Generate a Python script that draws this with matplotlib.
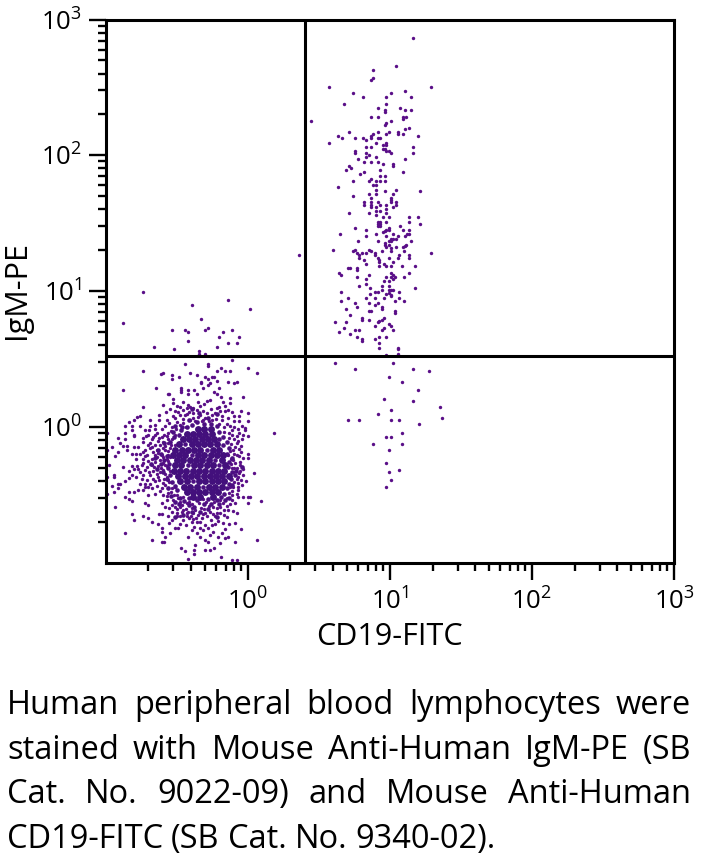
import numpy as np
import matplotlib
matplotlib.use("Agg")
import matplotlib.pyplot as plt
from matplotlib.ticker import NullFormatter, FixedLocator

plt.rcParams['font.family'] = ['Open Sans', 'DejaVu Sans']
plt.rcParams['mathtext.fontset'] = 'custom'
plt.rcParams['mathtext.rm'] = 'Open Sans'
plt.rcParams['mathtext.default'] = 'rm'

# events as (FITC channel, PE channel), 1024 channels over 4 log decades
upper_right = [
    (554,990),(523,937),(482,929),(482,913),(478,909),(402,897),(587,897),(446,885),(515,885),(539,889),
    (463,877),(506,877),(551,877),(430,864),(506,864),(491,857),(503,853),(503,849),(530,857),(539,853),
    (551,853),(479,841),(491,841),(535,841),(535,837),(542,841),(515,833),(506,829),(503,825),
    (547,820),(539,817),(438,812),(491,812),(511,812),(527,812),(527,809),(535,809),(506,809),(482,809),
    (479,804),(479,800),(418,804),(563,804),(426,800),(450,800),(463,800),(470,797),(491,800),(494,800),
    (402,792),(487,792),(506,792),(506,788),(499,788),(470,784),(479,784),(554,784),(499,780),(503,780),
    (506,776),(511,776),(450,776),(450,772),(515,772),(554,772),(470,772),(475,768),(470,764),(487,764),
    (454,760),(539,760),(466,756),(479,756),(491,756),(499,752),(518,752),(518,748),(438,748),(442,744),
    (434,740),(494,740),(466,736),(458,732),(535,736),(494,728),(503,728),(479,724),(475,720),(446,720),
    (487,720),(494,720),(503,720),(482,712),(487,712),(418,708),(487,703),(523,703),(503,700),(566,700),
    (475,695),(487,695),(518,695),(446,692),(479,687),(515,687),(515,683),(515,679),(466,679),(466,675),
    (479,679),(479,675),(479,671),(491,679),(494,675),(487,671),(506,675),(523,679),(523,675),(518,671),
    (487,663),(494,663),(506,667),(506,659),(438,659),(475,659),(487,655),(499,651),(511,651),(547,651),
    (563,651),(547,643),(491,643),(494,643),(506,643),(491,639),(494,639),(491,635),(494,635),(566,639),
    (530,635),(450,631),(511,631),(470,627),(506,627),(503,625),(511,627),(535,627),(547,627),(499,623),
    (422,619),(487,619),(518,619),(543,619),(547,619),(506,615),(470,615),(527,615),(539,615),(518,611),
    (523,611),(515,611),(511,607),(515,607),(454,607),(491,607),(551,607),(503,603),(503,598),(511,598),
    (542,598),(539,596),(535,595),(506,595),(523,595),(515,593),(410,590),(450,590),(475,590),
    (586,583),(445,587),(453,583),(457,579),(457,575),(462,583),(469,583),(478,587),(486,583),(486,579),
    (498,587),(514,587),(538,587),(546,579),(546,575),(510,575),(529,579),(526,575),(465,571),(490,575),
    (493,571),(493,567),(517,567),(469,563),(502,563),(505,559),(514,559),(493,559),(534,559),(558,559),
    (437,555),(441,555),(453,555),(453,551),(546,546),(421,546),(425,543),(474,543),(514,546),(517,543),
    (453,538),(505,538),(514,538),(522,538),(517,534),(469,534),(538,538),(510,530),(502,530),(469,526),
    (498,522),(457,522),(510,522),(558,518),(477,518),(498,514),(517,514),(514,514),(510,514),(510,509),
    (514,505),(486,510),(490,510),(477,507),(529,510),(425,510),(505,506),(437,498),(469,498),(486,498),
    (502,498),(514,503),(529,498),(522,494),(538,494),(425,494),(449,490),(474,490),(490,490),(486,486),
    (453,482),(498,482),(498,478),(433,478),(474,474),(478,474),(522,474),(522,470),(441,466),(462,462),
    (462,458),(474,458),(502,462),(498,458),(493,455),(490,454),(413,454),(433,454),(510,450),(514,446),
    (486,446),(429,442),(502,442),(498,438),(449,438),(457,438),(517,438),(421,434),(441,430),(453,426),
    (462,422),(462,418),(493,426),(505,426),(486,422),(493,414),(493,405),(526,405),(526,402),(526,393),
    (505,391),(370,833),
]
lower_right = [
    (413,377),(517,377),(449,365),(553,365),(582,361),(510,349),(534,341),(562,325),(502,309),(553,305),
    (602,293),(514,288),(490,280),(606,272),(437,268),(457,268),(514,268),(529,268),(565,261),(534,244),
    (505,236),(514,236),(481,224),(534,224),(510,212),(505,188),(510,171),(529,175),(514,156),(505,143),
]
upper_left = [
    (67,511),(220,495),(156,486),(260,478),(31,451),(172,459),(184,442),(180,439),(120,439),(144,439),
    (148,434),(228,439),(212,434),(204,426),(240,426),(148,418),(220,414),(236,414),(87,406),(123,402),
    (200,406),(168,398),(168,394),(180,394),(348,579),
]
lower_left = [
    (228,382),(144,374),(184,374),(184,370),(67,362),(104,358),(100,355),(120,354),(152,358),(164,354),
    (208,366),(200,362),(216,362),(224,362),(256,366),(272,358),(120,346),(132,350),(180,350),(184,346),
    (192,350),(196,350),(200,342),(172,341),(172,338),(220,341),(236,341),(232,338),(188,338),(184,334),
    (176,329),(204,329),(91,330),(31,326),(136,329),(136,326),(136,321),(148,326),(160,326),(112,317),
    (115,317),(148,317),(164,317),(196,321),(200,317),(208,313),(248,313),(224,310),(224,300),(188,307),
    (182,304),(167,302),(121,308),(121,300),(104,297),(68,294),(152,294),(158,291),(149,297),(134,294),
    (205,294),(221,288),(125,285),(140,287),(164,288),(200,291),(206,285),(215,285),(244,285),(256,281),
    (232,277),(240,277),(63,277),(52,268),(43,265),(56,274),(97,269),(110,269),(125,272),(134,278),
    (147,280),(170,278),(191,278),(197,282),(191,269),(221,272),(232,266),(240,266),(256,266),(209,269),
    (152,269),(161,266),(176,269),(35,258),(47,258),(63,258),(80,258),(89,260),(107,258),(119,256),
    (134,260),(232,255),(252,253),(252,249),(227,249),(240,245),(304,245),(3,245),(35,245),(47,249),
    (52,241),(71,249),(79,249),(92,245),(113,245),(125,241),(77,241),(89,241),(106,241),(248,241),
    (256,238),(52,238),(68,234),(23,234),(35,233),(83,233),(97,234),(113,233),(227,241),(236,238),
    (27,225),(31,220),(39,220),(52,217),(59,217),(67,228),(80,225),(89,222),(104,228),(113,225),
    (125,222),(11,217),(3,212),(39,212),(23,209),(68,209),(80,216),(92,212),(107,212),(116,216),
    (236,225),(244,220),(244,209),(230,212),(256,205),(55,205),(63,205),(47,205),(17,200),(71,201),
    (89,203),(101,203),(113,203),(221,203),(236,203),(55,195),(67,195),(83,195),(98,194),(110,195),
    (256,197),(230,194),(242,190),(7,184),(31,181),(47,182),(56,182),(68,187),(83,184),(95,182),
    (110,182),(242,184),(248,176),(51,176),(59,176),(43,172),(71,175),(86,173),(104,175),(116,172),
    (242,172),(227,178),(236,178),(3,161),(15,165),(15,161),(47,165),(35,153),(43,159),(55,162),
    (67,165),(80,165),(95,162),(110,161),(268,168),(248,165),(239,162),(11,144),(23,148),(27,148),
    (63,148),(71,148),(80,148),(89,153),(104,150),(113,156),(239,150),(230,143),(253,153),(23,140),
    (59,137),(67,137),(77,143),(101,140),(113,140),(125,143),(239,137),(3,129),(15,133),(35,124),
    (43,133),(51,133),(43,120),(47,116),(77,128),(104,128),(113,131),(123,128),(239,124),(248,124),
    (256,124),(260,124),(228,128),(280,116),(18,104),(71,112),(76,109),(101,112),(110,117),(122,118),
    (134,115),(146,112),(161,121),(176,119),(191,121),(206,118),(218,121),(227,118),(256,112),(233,112),
    (47,92),(51,80),(67,88),(76,84),(83,77),(97,92),(101,92),(112,88),(125,105),(134,105),
    (119,96),(140,99),(149,96),(158,93),(167,90),(179,93),(188,96),(200,102),(221,99),(230,98),
    (128,87),(134,87),(146,87),(155,77),(164,77),(173,84),(182,87),(197,87),(206,93),(236,93),
    (233,75),(95,72),(125,66),(131,66),(101,66),(179,71),(191,71),(244,63),(35,56),(101,58),
    (116,56),(155,61),(164,56),(176,61),(185,65),(194,58),(215,63),(209,55),(188,52),(221,48),
    (233,39),(272,43),(83,43),(101,39),(105,39),(107,48),(148,48),(170,49),(179,43),(206,36),
    (161,33),(185,39),(136,27),(144,22),(160,24),(160,16),(148,7),(180,24),(188,24),(196,27),
    (208,11),(228,5),(236,5),(215,46),(203,49),
]
# the busy ring just outside the saturated middle
cloud_ring = [
    (73,238),(86,236),(95,229),(101,236),(110,238),(119,232),(76,222),(84,218),(98,221),(108,219),
    (118,222),(72,213),(86,208),(95,206),(104,216),(112,210),(121,206),(75,203),(93,199),(103,199),
    (117,199),(77,192),(90,190),(104,188),(113,191),(65,184),(74,181),(88,180),(100,178),(108,184),
    (62,170),(78,170),(92,167),(99,170),(108,167),(66,158),(74,156),(85,158),(97,155),(105,157),
    (115,151),(72,142),(84,140),(93,145),(108,146),(119,141),(90,130),(98,134),(110,126),(118,133),
    (128,128),(118,248),(127,252),(139,263),(145,256),(158,272),(166,275),(173,266),(180,273),(186,266),
    (199,271),(205,262),(213,256),(218,262),(224,258),(213,247),(222,244),(128,265),(140,271),(115,264),
    (122,277),(131,283),(143,279),(150,284),(158,281),(176,286),(183,281),(190,289),(210,276),(216,295),
    (228,283),(128,295),(140,302),(146,291),(170,295),(178,299),(212,303),(238,251),(245,258),(109,284),
    (116,290),(96,279),(101,252),(90,252),(80,268),(222,235),(231,232),(238,230),(246,232),(226,224),
    (233,218),(240,214),(224,210),(232,204),(240,200),(248,197),(226,196),(234,188),(226,186),(232,178),
    (240,168),(230,171),(236,158),(244,156),(232,152),(238,143),(246,146),(224,142),(228,134),(236,129),
    (222,131),(130,122),(140,124),(150,115),(156,110),(168,113),(181,114),(186,107),(196,114),(212,112),
    (218,107),(225,110),(138,108),(128,100),(145,100),(155,103),(162,99),(172,103),(178,100),(193,104),
    (207,104),(213,99),(120,109),(115,103),(108,104),(128,93),(137,96),(146,94),(154,88),(163,84),
    (176,92),(193,92),(200,93),(213,90),(219,85),(140,80),(150,83),(158,82),(190,80),(203,79),
    (170,76),(120,80),(115,75),(135,72),(145,70),(160,67),(170,66),(198,72),(212,75),(222,73),
]
# overlapping events between the ring and the middle
cloud_shoulder = [
    (100,205),(110,200),(105,193),(115,186),(112,178),(100,186),(92,176),(104,170),(116,165),(110,158),
    (120,152),(125,145),(112,140),(128,136),(118,125),(135,122),(90,197),(82,186),(94,212),(106,225),
    (116,228),(124,236),(132,240),(122,246),(136,250),(146,255),(155,260),(165,265),(178,262),(190,262),
    (200,258),(205,246),(212,236),(205,232),(218,228),(212,222),(222,216),(218,205),(228,198),(150,268),
    (138,255),(125,258),(200,280),(185,272),(168,282),(155,290),(222,190),(220,180),(228,170),(226,158),
    (234,165),(222,148),(218,140),(228,146),(214,130),(208,124),(222,122),(235,172),(245,180),(200,118),
    (185,120),(178,110),(165,118),(150,122),(142,116),(132,110),(126,114),(160,105),(190,110),(205,110),
    (150,108),(170,95),(185,100),(140,90),(155,95),(125,85),(200,85),(215,118),
    (143,223),(183,213),(156,203),(197,193),(148,183),(204,183),(158,153),(175,143),
]
# the saturated middle of the lymphocyte cloud
core = [
    (166,252),(178,252),(190,252),
    (146,243),(157,243),(169,243),(180,243),(192,243),
    (139,233),(151,233),(162,233),(173,233),(185,233),(196,233),
    (132,223),(155,223),(166,223),(177,223),(189,223),(200,223),
    (126,213),(137,213),(148,213),(160,213),(171,213),(194,213),(205,213),
    (122,203),(133,203),(144,203),(167,203),(178,203),(190,203),(201,203),(212,203),
    (129,193),(140,193),(152,193),(163,193),(174,193),(186,193),(209,193),
    (125,183),(136,183),(159,183),(170,183),(182,183),(193,183),(215,183),
    (123,173),(134,173),(145,173),(157,173),(168,173),(179,173),(191,173),(202,173),(213,173),
    (131,163),(143,163),(154,163),(165,163),(177,163),(188,163),(199,163),(210,163),(222,163),
    (135,153),(146,153),(169,153),(180,153),(192,153),(203,153),(214,153),
    (141,143),(152,143),(164,143),(186,143),(198,143),(209,143),
    (146,133),(157,133),(168,133),(180,133),(191,133),(202,133),
    (158,124),(170,124),(193,124),
]
gate_x_channel = 359.6
gate_y_channel = 388.9

decade_labels = ['$10^{0}$', '$10^{1}$', '$10^{2}$', '$10^{3}$']
decade_values = [1, 10, 100, 1000]
caption_lines = [
    "Human peripheral blood lymphocytes were",
    "stained with Mouse Anti-Human IgM-PE (SB",
    "Cat. No. 9022-09) and Mouse Anti-Human",
    "CD19-FITC (SB Cat. No. 9340-02).",
]


def to_linear(channel):
    return 10.0 ** (np.asarray(channel, dtype=float) / 256 - 1)


fig = plt.figure(figsize=(7.01, 8.60), dpi=100)
ax = fig.add_axes([105.5 / 701, 1 - 562.5 / 860, 568.5 / 701, 543 / 860])
ax.set_xscale('log')
ax.set_yscale('log')
ax.set_xlim(0.1, 1000)
ax.set_ylim(0.1, 1000)

dot_color = '#5a0f88'
for events in (upper_right, lower_right, upper_left, lower_left, cloud_ring):
    pts = np.array(events)
    ax.scatter(to_linear(pts[:, 0]), to_linear(pts[:, 1]), s=6, color=dot_color, linewidths=0, zorder=2)
pts = np.array(cloud_shoulder)
ax.scatter(to_linear(pts[:, 0]), to_linear(pts[:, 1]), s=11, color='#4c0f82', linewidths=0, zorder=2)
pts = np.array(core)
ax.scatter(to_linear(pts[:, 0]), to_linear(pts[:, 1]), s=25, color='#43107c', linewidths=0, zorder=2)

ax.axvline(to_linear(gate_x_channel), color='black', lw=2.2, zorder=3)
ax.axhline(to_linear(gate_y_channel), color='black', lw=2.2, zorder=3)

for spine in ax.spines.values():
    spine.set_linewidth(2.2)

minors = [m * d for d in (0.1, 1, 10, 100) for m in range(2, 10)]
for axis in (ax.xaxis, ax.yaxis):
    axis.set_major_locator(FixedLocator(decade_values))
    axis.set_minor_locator(FixedLocator(minors))
    axis.set_minor_formatter(NullFormatter())
ax.set_xticklabels(decade_labels)
ax.set_yticklabels(decade_labels)
ax.tick_params(which='major', length=12, width=1.7, labelsize=18.5)
ax.tick_params(axis='x', which='major', pad=7)
ax.tick_params(axis='y', which='major', pad=5)
ax.tick_params(which='minor', length=6, width=1.7)

fig.text(389 / 701, 1 - 637 / 860, 'CD19-FITC', fontsize=22, ha='center', va='center')
fig.text(17 / 701, 1 - 290 / 860, 'IgM-PE', fontsize=22, rotation=90, ha='center', va='center')

# caption is justified between x=7 and x=691, so each word is placed on its own
renderer = fig.canvas.get_renderer()
baselines = [714, 759, 803, 848]
for i, line in enumerate(caption_lines):
    words = line.split()
    items = [fig.text(7 / 701, 1 - baselines[i] / 860, w, fontsize=23.5, va='baseline') for w in words]
    widths = [t.get_window_extent(renderer).width for t in items]
    if i < len(caption_lines) - 1:
        gap = (684 - sum(widths)) / (len(words) - 1)
    else:
        gap = 8
    x = 7
    for t, w in zip(items, widths):
        t.set_x(x / 701)
        x += w + gap

fig.savefig('out.png', dpi=100)
